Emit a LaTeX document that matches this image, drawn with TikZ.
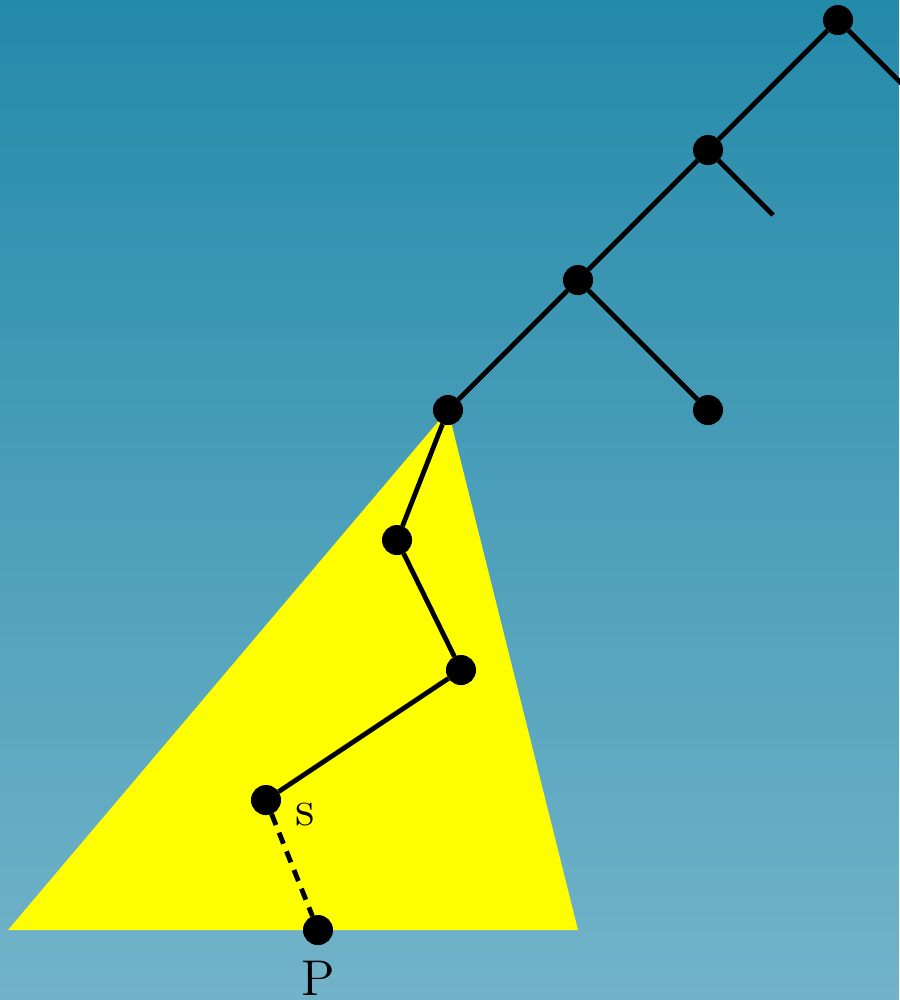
\documentclass[tikz,border=0pt]{standalone}
\usetikzlibrary{positioning}
\definecolor{skytop}{RGB}{36,138,170}
\definecolor{skybottom}{RGB}{114,179,201}
\definecolor{coneyellow}{RGB}{255,255,0}
\tikzset{
  dot/.style={circle, fill=black, draw=black, line width=0.6pt, inner sep=0pt, minimum size=2.1mm},
  edge/.style={line width=1.05pt, black},
  lbl/.style={font=\fontsize{11}{13}\selectfont, inner sep=0pt}
}
\begin{document}
\begin{tikzpicture}
  \shade[top color=skytop, bottom color=skybottom] (-3.446,-4.538) rectangle (3.469,3.154);
  \useasboundingbox (-3.446,-4.538) rectangle (3.469,3.154);
  \fill[coneyellow] (0,0) -- (-3.385,-4) -- (1,-4) -- cycle;
  % upper tree
  \node[dot] (n1) at (3,3) {};
  \node[dot] (n2) at (2,2) {};
  \node[dot] (n3) at (1,1) {};
  \node[dot] (n4) at (0,0) {};
  \node[dot] (leaf) at (2,0) {};
  \coordinate (b1) at (4,2);
  \coordinate (b2) at (2.5,1.5);
  % path down to P
  \node[dot] (n5) at (-0.392,-1) {};
  \node[dot] (n6) at (0.1,-2) {};
  \node[dot] (s) at (-1.4,-3) {};
  \node[dot] (p) at (-1,-4) {};
  \node[lbl] (slbl) at ([shift={(0.3,-0.115)}]s) {s};
  \node[lbl] (plbl) at ([shift={(0,-0.37)}]p) {P};
  \draw[edge] (n1) -- (b1);
  \draw[edge] (n1) -- (n2) -- (n3) -- (n4);
  \draw[edge] (n2) -- (b2);
  \draw[edge] (n3) -- (leaf);
  \draw[edge] (n4) -- (n5) -- (n6) -- (s);
  \draw[edge, dash pattern=on 2.6pt off 1.8pt] (s) -- (p);
\end{tikzpicture}
\end{document}
